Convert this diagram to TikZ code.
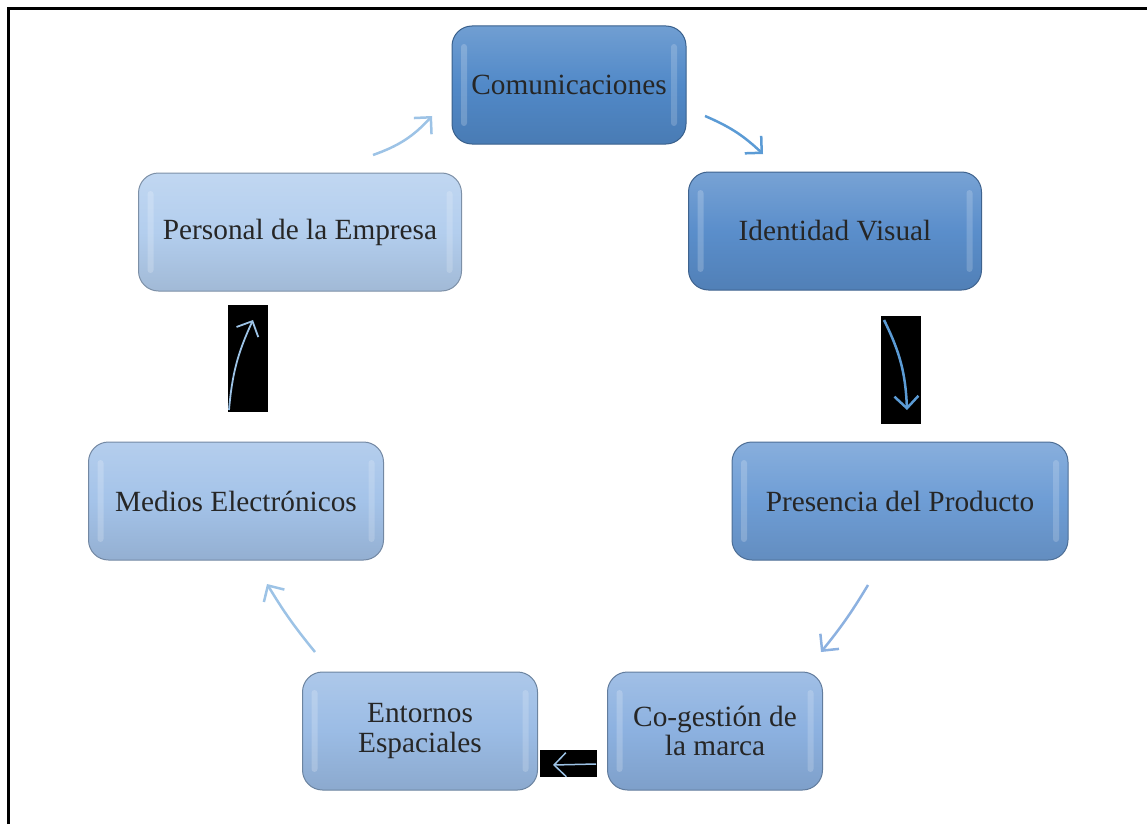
\documentclass[tikz,border=0pt]{standalone}
\usepackage{fontspec}
\setmainfont{Liberation Serif}
\usetikzlibrary{arrows.meta}
\definecolor{txt}{HTML}{262626}
\definecolor{bluea}{HTML}{5189C8}
\definecolor{blueb}{HTML}{5A8ECB}
\definecolor{bluec}{HTML}{6E9DD5}
\definecolor{blued}{HTML}{8CB1E0}
\definecolor{bluee}{HTML}{9BBCE5}
\definecolor{bluef}{HTML}{A4C3E9}
\definecolor{blueg}{HTML}{B3CEEE}
\definecolor{arrdark}{HTML}{5B9BD5}
\definecolor{arrlight}{HTML}{9DC3E6}

\begin{document}
\begin{tikzpicture}[x=1pt,y=-1pt,
  stage/.style={rounded corners=20pt, minimum height=118pt, inner sep=0pt,
    align=center, text=txt, font=\fontsize{29.3}{29.5}\selectfont,
    draw=#1!70!black, line width=1pt,
    top color=#1!82!white, bottom color=#1!90!black, middle color=#1,
    path picture={
      \fill[white,opacity=.2,rounded corners=3pt]
        ([shift={(9pt,-18pt)}]path picture bounding box.north west) rectangle
        ([shift={(15pt,18pt)}]path picture bounding box.south west);
      \fill[white,opacity=.18,rounded corners=3pt]
        ([shift={(-15pt,-18pt)}]path picture bounding box.north east) rectangle
        ([shift={(-9pt,18pt)}]path picture bounding box.south east);}},
  flow/.style={draw=#1, line width=2.5pt,
    -{Straight Barb[length=12pt,width=24pt]}}]
\useasboundingbox (0,0) rectangle (1147,824);
% frame
\draw[line width=2.5pt] (8.3,824) -- (8.3,8.3) -- (1147,8.3);

% stages of the cycle
\node[stage=bluea, minimum width=234pt] (com) at (569,85) {Comunicaciones};
\node[stage=blueb, minimum width=293pt] (ide) at (835,231) {Identidad Visual};
\node[stage=bluec, minimum width=336pt] (pre) at (900,501) {Presencia del Producto};
\node[stage=blued, minimum width=215pt] (cog) at (715,731) {Co-gestión de\\la marca};
\node[stage=bluee, minimum width=235pt] (ent) at (420,731) {Entornos\\Espaciales};
\node[stage=bluef, minimum width=295pt] (med) at (236,501) {Medios Electrónicos};
\node[stage=blueg, minimum width=323pt] (per) at (300,232) {Personal de la Empresa};

% black patches behind three arrows
\fill (881,316) rectangle (921,424);
\fill (540,750) rectangle (597,777);
\fill (228,305) rectangle (268,412);

% arrow ends
\coordinate (a1s) at (705,116); \coordinate (a1e) at (763,154);
\coordinate (a2s) at (884,320); \coordinate (a2e) at (907,410);
\coordinate (a3s) at (868,585); \coordinate (a3e) at (821,652);
\coordinate (a4s) at (596,764); \coordinate (a4e) at (553,765);
\coordinate (a5s) at (315,652); \coordinate (a5e) at (267,584);
\coordinate (a6s) at (229,410); \coordinate (a6e) at (253,320);
\coordinate (a7s) at (373,155); \coordinate (a7e) at (432,116);

\draw[flow=arrdark] (a1s) to[bend left=10] (a1e);
\draw[flow=arrdark] (a2s) to[bend left=12] (a2e);
\draw[flow=blued] (a3s) to[bend left=4] (a3e);
\draw[flow=arrlight, line width=1.5pt] (a4s) -- (a4e);
\draw[flow=arrlight] (a5s) to[bend left=4] (a5e);
\draw[flow=arrlight, line width=1.8pt] (a6s) to[bend left=10] (a6e);
\draw[flow=arrlight] (a7s) to[bend right=14] (a7e);
\end{tikzpicture}
\end{document}
